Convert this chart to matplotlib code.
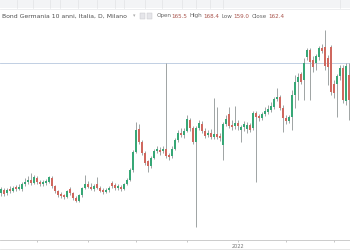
"""
Bond Germania 10 anni - candele giornaliere (stile TradingView)
"""
import numpy as np
import matplotlib.pyplot as plt
from matplotlib.patches import Rectangle

# dati (prezzi stimati)
opens = [155.7, 156.0, 155.7, 156.0, 155.9, 156.2, 156.1, 156.1, 156.6, 156.8,
         157.0, 156.7, 157.2, 156.8, 156.6, 156.7, 156.8, 157.2, 156.4, 155.9,
         155.6, 155.4, 155.3, 156.1, 155.7, 155.2, 154.9, 155.5, 156.2, 156.6,
         156.3, 156.1, 156.6, 156.2, 155.9, 155.8, 156.0, 156.7, 156.5, 156.2,
         156.3, 156.1, 156.6, 157.0, 158.0, 159.8, 162.1, 160.8, 159.7, 158.9,
         158.4, 159.2, 159.9, 160.0, 159.9, 160.1, 159.5, 159.4, 160.1, 161.0,
         161.7, 161.5, 161.9, 163.0, 162.2, 160.8, 162.2, 162.6, 161.9, 161.5,
         161.7, 161.3, 161.6, 161.3, 160.5, 162.6, 163.6, 162.5, 162.4, 162.7,
         162.0, 162.3, 162.1, 162.5, 162.2, 163.7, 163.4, 163.2, 163.6, 163.8,
         164.0, 164.3, 165.1, 165.3, 164.2, 163.2, 162.9, 163.3, 165.5, 166.8,
         167.6, 167.0, 169.3, 170.0, 169.0, 168.7, 169.3, 170.2, 170.3, 169.2,
         170.3, 166.6, 166.6, 167.4, 168.2, 164.9, 167.5]
closes = [156.1, 155.6, 156.0, 155.9, 156.2, 156.1, 156.3, 156.6, 156.7, 156.9,
          156.7, 157.3, 156.8, 156.6, 156.8, 156.9, 157.3, 156.4, 155.9, 155.5,
          155.4, 155.3, 155.9, 155.7, 155.2, 154.9, 155.5, 156.2, 156.6, 156.3,
          156.1, 156.4, 156.2, 155.9, 155.8, 156.0, 156.1, 156.4, 156.2, 156.3,
          156.1, 156.6, 157.0, 158.0, 159.8, 162.0, 160.8, 159.7, 158.7, 158.4,
          159.2, 159.9, 160.1, 159.8, 160.1, 159.4, 159.3, 160.1, 161.0, 161.7,
          161.5, 161.9, 163.1, 162.2, 160.8, 162.2, 162.7, 161.9, 161.4, 161.7,
          161.3, 161.6, 161.3, 161.2, 162.6, 163.1, 162.4, 162.3, 162.7, 162.4,
          162.3, 162.6, 162.5, 162.0, 163.7, 163.3, 163.2, 163.6, 163.9, 164.1,
          164.4, 165.1, 165.3, 164.2, 163.2, 162.9, 163.3, 165.5, 166.8, 167.3,
          166.8, 168.7, 170.0, 168.8, 168.3, 169.4, 170.2, 169.9, 168.4, 168.3,
          165.8, 165.7, 167.4, 168.2, 165.0, 168.4, 165.0]
highs = [156.3, 156.2, 156.2, 156.4, 156.4, 156.5, 156.6, 156.8, 157.2, 157.4,
         157.7, 157.5, 157.4, 157.0, 157.0, 157.1, 157.4, 157.4, 156.5, 156.0,
         155.8, 155.6, 156.0, 156.3, 155.8, 155.4, 155.6, 156.3, 157.5, 156.9,
         156.7, 156.6, 157.3, 156.4, 156.2, 156.2, 156.4, 156.9, 156.7, 156.6,
         156.5, 156.7, 157.2, 158.2, 160.0, 162.8, 162.6, 161.0, 159.9, 159.0,
         159.4, 160.1, 160.4, 160.3, 160.4, 168.7, 159.7, 160.4, 161.2, 162.0,
         162.2, 162.2, 163.5, 163.2, 162.4, 162.4, 163.0, 162.9, 162.2, 162.0,
         162.1, 165.2, 164.3, 161.7, 162.8, 163.5, 164.3, 163.0, 164.4, 163.0,
         162.5, 162.9, 162.8, 162.7, 163.9, 163.9, 163.6, 163.8, 164.3, 164.5,
         164.8, 165.3, 166.2, 165.5, 164.5, 163.5, 163.5, 166.0, 167.5, 167.7,
         167.8, 169.2, 170.2, 170.2, 169.4, 169.6, 170.4, 170.6, 172.0, 169.5,
         170.5, 167.0, 167.6, 168.5, 168.5, 168.7, 168.7]
lows = [155.4, 155.4, 155.5, 155.7, 155.8, 155.9, 156.0, 155.9, 156.4, 156.6,
        156.5, 156.6, 156.6, 156.4, 156.4, 156.5, 156.7, 156.2, 155.7, 155.3,
        155.2, 155.1, 155.2, 155.5, 155.0, 154.8, 154.8, 155.3, 156.1, 156.2,
        156.0, 155.9, 156.1, 155.8, 155.6, 155.7, 155.8, 156.2, 156.0, 156.0,
        155.9, 156.0, 156.5, 156.9, 157.8, 159.7, 160.6, 159.5, 158.5, 157.8,
        158.2, 159.1, 159.7, 159.5, 159.7, 159.2, 159.0, 159.2, 160.0, 160.8,
        161.3, 161.2, 161.8, 161.9, 160.6, 152.3, 162.0, 161.7, 161.2, 161.3,
        161.1, 161.1, 161.1, 160.9, 159.0, 162.4, 162.2, 162.0, 162.1, 162.0,
        160.8, 161.9, 161.7, 161.8, 162.0, 156.8, 162.9, 163.0, 163.4, 163.6,
        163.8, 164.1, 164.9, 164.0, 161.8, 162.6, 162.7, 162.0, 164.2, 165.0,
        166.6, 165.0, 169.0, 165.0, 167.8, 168.0, 169.0, 169.7, 168.0, 166.5,
        165.5, 165.2, 163.3, 167.0, 164.7, 164.5, 163.0]

# linea orizzontale disegnata e tacche dell'asse tempo
hline_price = 168.7
tick_idx = [12, 29, 45, 62, 79, 95, 111]
tick_labels = ['', '', '', '', '2022', '', '']

title = 'Bond Germania 10 anni, Italia, D, Milano'
ohlc_labels = ['Open', 'High', 'Low', 'Close']
ohlc_values = ['165.5', '168.4', '159.0', '162.4']

GREEN = '#37a776'
RED = '#cf685f'
WICK = '#9ea4a4'

fig = plt.figure(figsize=(3.5, 2.5), dpi=100)
fig.patch.set_facecolor('white')

ax = fig.add_axes([0, 0.04, 1, 0.872])
o = np.array(opens)
c = np.array(closes)
h = np.array(highs)
l = np.array(lows)
x = np.arange(len(o))

ax.vlines(x, l, h, color=WICK, linewidth=0.7, zorder=2)
up = c >= o
body_bot = np.minimum(o, c)
body_h = np.maximum(np.abs(c - o), 0.15)
ax.bar(x[up], body_h[up], bottom=body_bot[up], width=0.8,
       color=GREEN, linewidth=0, zorder=3)
ax.bar(x[~up], body_h[~up], bottom=body_bot[~up], width=0.8,
       color=RED, linewidth=0, zorder=3)

ax.axhline(hline_price, color='#b7c7de', linewidth=0.6, zorder=1)

ax.set_xlim(-1 / 3, 349 / 3)
ax.set_ylim(151.0, 172.8)
ax.set_yticks([])
ax.set_xticks(tick_idx)
ax.set_xticklabels(tick_labels, fontsize=3.6, color='#777777')
ax.tick_params(axis='x', length=1.5, width=0.5, color='#b0b0b0', pad=1.2)
for side in ['top', 'left', 'right']:
    ax.spines[side].set_visible(False)
ax.spines['bottom'].set_color('#c4c4c4')
ax.spines['bottom'].set_linewidth(0.6)

# barra degli strumenti in alto
fig.patches.append(Rectangle((0, 0.968), 1, 0.032, transform=fig.transFigure,
                             facecolor='#f3f4f6', edgecolor='none'))
for sx in [17, 33, 50, 60, 78, 97, 115, 124, 145, 162, 182, 196, 210, 223, 340]:
    fig.add_artist(plt.Line2D([sx / 350, sx / 350], [0.97, 1.0],
                              color='#e2e3e6', linewidth=0.5))
fig.add_artist(plt.Line2D([0, 1], [0.966, 0.966], color='#e6e7ea', linewidth=0.5))

# riga in fondo
fig.add_artist(plt.Line2D([0, 1], [0.006, 0.006], color='#e3e3e3', linewidth=0.6))

# titolo e valori OHLC
fig.text(2 / 350, 1 - 16 / 250, title, fontsize=4.4, color='#4d4d4d',
         va='center', ha='left')
fig.text(133 / 350, 1 - 16 / 250, '▾', fontsize=3.5, color='#aaaaaa',
         va='center', ha='left')
for bx in [140, 146.5]:
    fig.patches.append(Rectangle((bx / 350, 1 - 18.5 / 250), 5 / 350, 5 / 250,
                                 transform=fig.transFigure, facecolor='#e6e6ea',
                                 edgecolor='#c4c4c8', linewidth=0.3))
lx = [157, 189, 221, 252]
vx = [171, 203, 233, 268]
for lab, val, a, b in zip(ohlc_labels, ohlc_values, lx, vx):
    fig.text(a / 350, 1 - 16 / 250, lab, fontsize=4.1, color='#666666',
             va='center', ha='left')
    fig.text(b / 350, 1 - 16 / 250, val, fontsize=4.1, color='#a9544c',
             va='center', ha='left')

plt.savefig('out.png', dpi=100)
